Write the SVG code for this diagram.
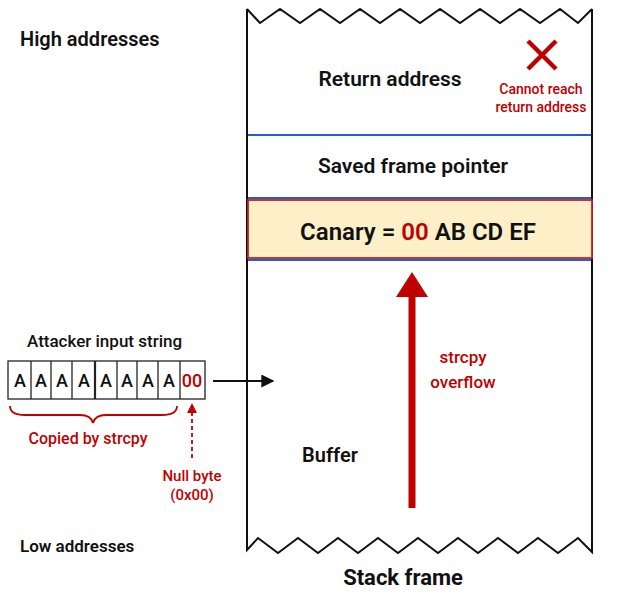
<svg xmlns="http://www.w3.org/2000/svg" width="617" height="599" viewBox="0 0 617 599">
<style>
text{font-family:Roboto,"Noto Sans","Liberation Sans",sans-serif;}
.lbl{font-size:20px;font-weight:600;fill:#111;}
.red{fill:#c00000;}
.edge{fill:none;stroke:#111;stroke-width:2;}
.blue{stroke:#1f5fcf;stroke-width:2;}
.cell{fill:#fff;stroke:#222;stroke-width:1.3;}
</style>
<defs>
<marker id="ah" viewBox="0 0 10 10" refX="9" refY="5" markerWidth="13" markerHeight="13" orient="auto" markerUnits="userSpaceOnUse">
<path d="M0,0 L10,5 L0,10 z" fill="#111"/>
</marker>
<marker id="ahr" viewBox="0 0 10 10" refX="9" refY="5" markerWidth="10" markerHeight="10" orient="auto" markerUnits="userSpaceOnUse">
<path d="M0,0 L10,5 L0,10 z" fill="#c00000"/>
</marker>
</defs>

<rect width="617" height="599" fill="#fff"/>

<text class="lbl" x="20" y="46">High addresses</text>
<text class="lbl" x="20" y="552" style="font-size:17px">Low addresses</text>

<g id="stack-frame">
<path class="edge" d="M247,9 L260,23 L280,9 L300,23 L320,9 L340,23 L360,9 L380,23 L400,9 L420,23 L440,9 L460,23 L480,9 L500,23 L520,9 L540,23 L560,9 L578,23 L592,9"/>
<path class="edge" d="M247,9 L247,550 L258,538 L278,553 L298,538 L318,553 L338,538 L358,553 L378,538 L398,553 L418,538 L438,553 L458,538 L478,553 L498,538 L518,553 L538,538 L558,553 L578,538 L592,552 L592,9"/>
<text class="lbl" x="403" y="585" text-anchor="middle" style="font-size:22px;font-weight:700">Stack frame</text>
</g>

<g id="return-address">
<line class="blue" x1="248" y1="135" x2="591" y2="135"/>
<text class="lbl" x="390" y="86" text-anchor="middle" style="font-size:21px">Return address</text>
<path d="M528,41 L556,69 M556,41 L528,69" stroke="#c00000" stroke-width="4.5" fill="none"/>
<text class="red" x="541" y="94" text-anchor="middle" style="font-size:14px;font-weight:500">Cannot reach</text>
<text class="red" x="541" y="112" text-anchor="middle" style="font-size:14px;font-weight:500">return address</text>
</g>

<g id="saved-frame-pointer">
<line class="blue" x1="248" y1="198" x2="591" y2="198"/>
<text class="lbl" x="413" y="173" text-anchor="middle" style="font-size:21px">Saved frame pointer</text>
</g>

<g id="canary">
<rect x="248" y="200" width="344" height="58" fill="#fdf0c9" stroke="#c81e1e" stroke-width="1.8"/>
<line class="blue" x1="248" y1="260" x2="591" y2="260"/>
<text class="lbl" x="418" y="240" text-anchor="middle" style="font-size:24px" xml:space="preserve">Canary = <tspan class="red">00</tspan> AB CD EF</text>
</g>

<g id="buffer">
<text class="lbl" x="330" y="462" text-anchor="middle">Buffer</text>
</g>

<g id="attacker-input">
<text class="lbl" x="27" y="347" style="font-size:17px;font-weight:500">Attacker input string</text>
<rect class="cell" x="8" y="361" width="197" height="38"/>
<g stroke="#222" stroke-width="1.3">
<line x1="31" y1="361" x2="31" y2="399"/>
<line x1="51" y1="361" x2="51" y2="399"/>
<line x1="72" y1="361" x2="72" y2="399"/>
<line x1="95" y1="361" x2="95" y2="399" stroke-width="2.2"/>
<line x1="117" y1="361" x2="117" y2="399"/>
<line x1="137" y1="361" x2="137" y2="399"/>
<line x1="158" y1="361" x2="158" y2="399"/>
<line x1="180" y1="361" x2="180" y2="399"/>
</g>
<g style="font-size:18px;font-weight:500" text-anchor="middle" fill="#111">
<text x="20" y="387">A</text>
<text x="41" y="387">A</text>
<text x="62" y="387">A</text>
<text x="84" y="387">A</text>
<text x="106" y="387">A</text>
<text x="127" y="387">A</text>
<text x="148" y="387">A</text>
<text x="169" y="387">A</text>
<text x="192" y="387" class="red">00</text>
</g>
<path d="M10,406 Q10,415 25,415 L80,415 Q91,415 93,423 Q95,415 106,415 L162,415 Q177,415 177,406" fill="none" stroke="#c00000" stroke-width="1.8"/>
<text class="red" x="88" y="444" text-anchor="middle" style="font-size:16px;font-weight:500">Copied by strcpy</text>
<text class="red" x="192" y="481" text-anchor="middle" style="font-size:15px;font-weight:500">Null byte</text>
<text class="red" x="192" y="500" text-anchor="middle" style="font-size:15px;font-weight:500">(0x00)</text>
</g>

<g id="connectors">
<line x1="213" y1="381" x2="273" y2="381" stroke="#111" stroke-width="2" marker-end="url(#ah)"/>
<line x1="192" y1="458" x2="192" y2="404" stroke="#c00000" stroke-width="1.8" stroke-dasharray="4,3" marker-end="url(#ahr)"/>
<rect x="408.5" y="294" width="7" height="214" fill="#c00000"/>
<path d="M396,297 L412,272 L428,297 z" fill="#c00000"/>
<text class="red" x="463" y="363" text-anchor="middle" style="font-size:17px;font-weight:500">strcpy</text>
<text class="red" x="463" y="388" text-anchor="middle" style="font-size:17px;font-weight:500">overflow</text>
</g>
</svg>
